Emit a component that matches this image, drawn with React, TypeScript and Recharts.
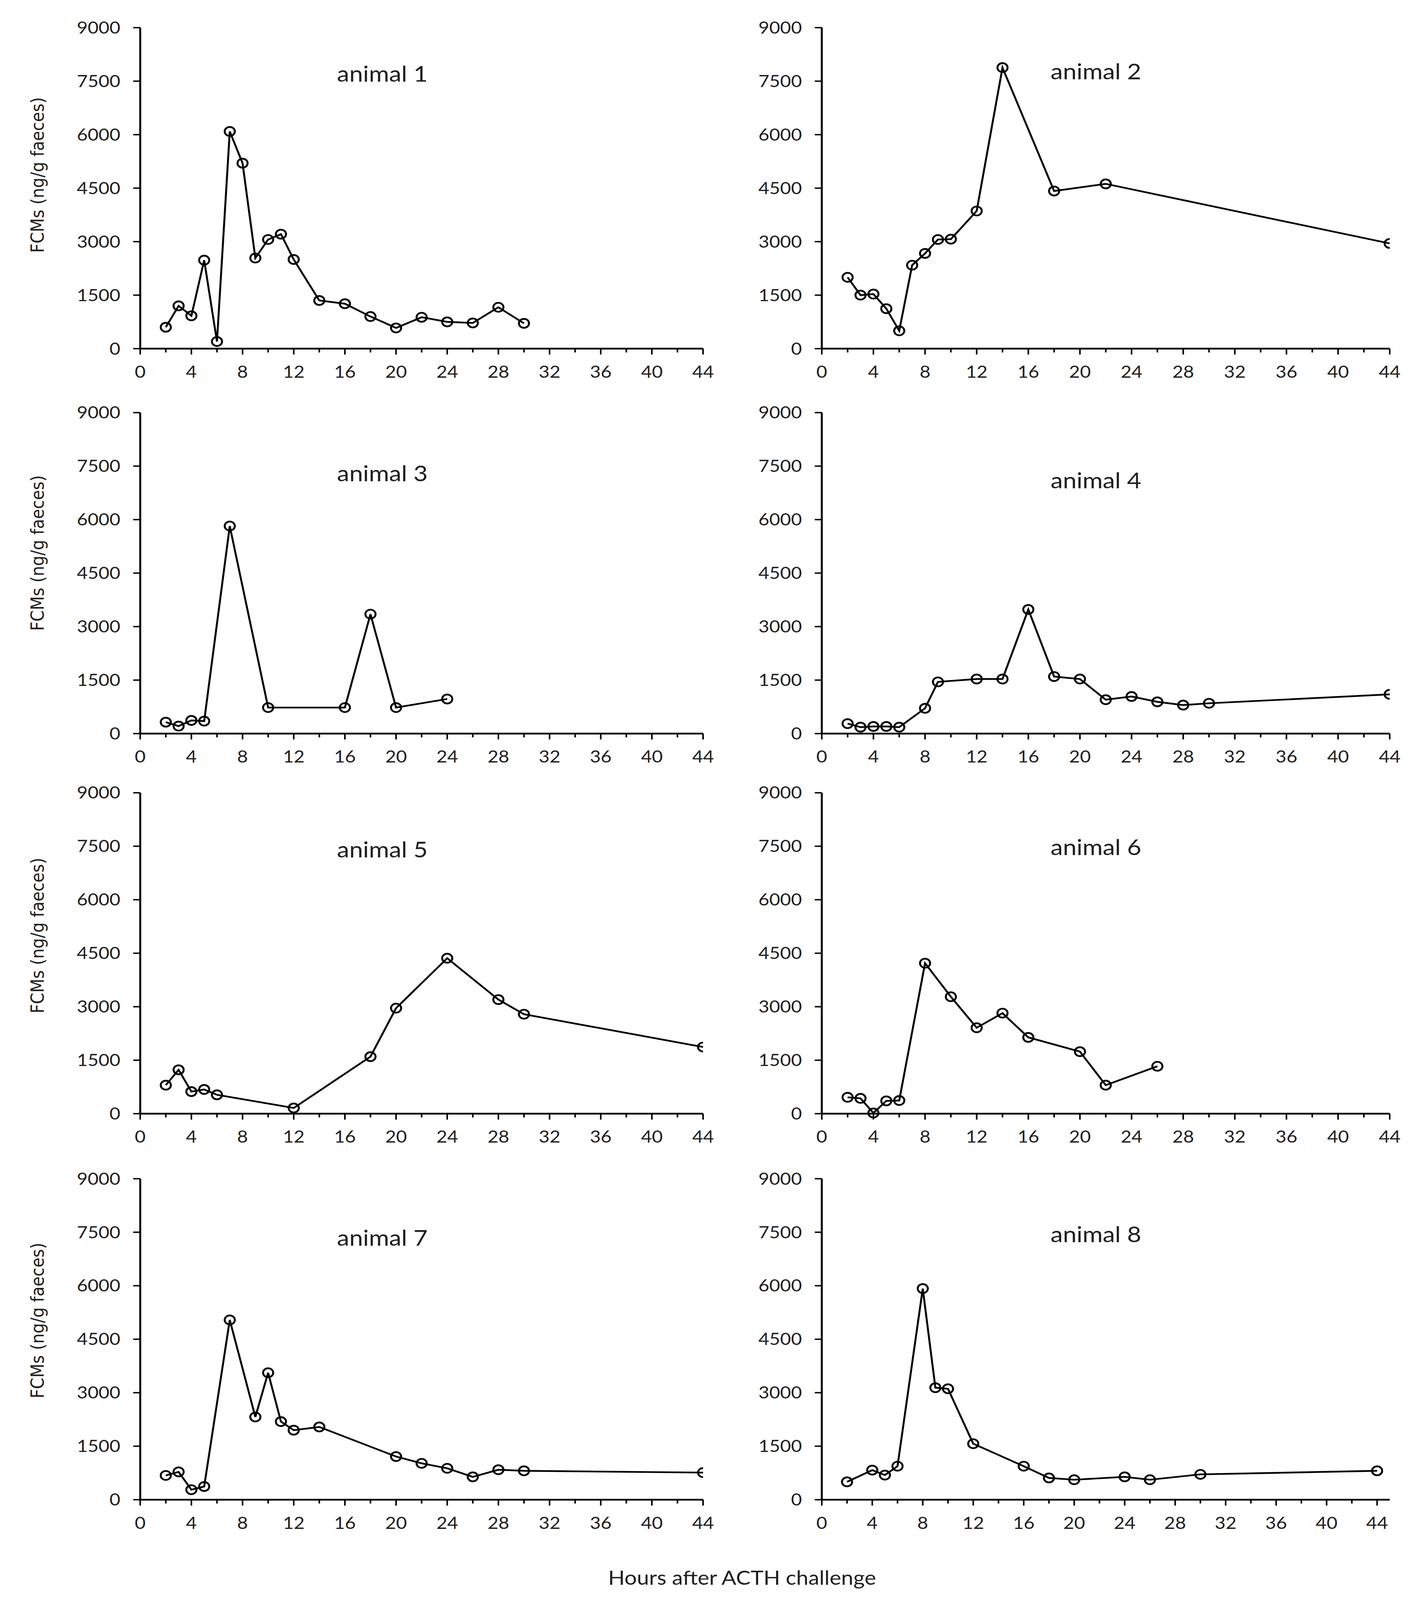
import React from 'react';
import { LineChart, Line, XAxis, YAxis } from 'recharts';

// hours after ACTH challenge and FCM values (ng/g faeces) per animal
const hours1 = [2, 3, 4, 5, 6, 7, 8, 9, 10, 11, 12, 14, 16, 18, 20, 22, 24, 26, 28, 30];
const fcm1 = [600, 1200, 920, 2480, 200, 6090, 5200, 2540, 3060, 3210, 2500, 1350, 1260, 900, 580, 880, 750, 720, 1160, 710];

const hours2 = [2, 3, 4, 5, 6, 7, 8, 9, 10, 12, 14, 18, 22, 44];
const fcm2 = [2000, 1500, 1530, 1120, 500, 2340, 2670, 3060, 3070, 3860, 7880, 4420, 4620, 2950];

const hours3 = [2, 3, 4, 5, 7, 10, 16, 18, 20, 24];
const fcm3 = [320, 210, 370, 350, 5820, 730, 730, 3350, 730, 970];

const hours4 = [2, 3, 4, 5, 6, 8, 9, 12, 14, 16, 18, 20, 22, 24, 26, 28, 30, 44];
const fcm4 = [280, 180, 200, 200, 180, 710, 1450, 1530, 1530, 3480, 1600, 1530, 950, 1040, 890, 800, 850, 1100];

const hours5 = [2, 3, 4, 5, 6, 12, 18, 20, 24, 28, 30, 44];
const fcm5 = [800, 1230, 620, 680, 530, 160, 1600, 2960, 4360, 3200, 2790, 1870];

const hours6 = [2, 3, 4, 5, 6, 8, 10, 12, 14, 16, 20, 22, 26];
const fcm6 = [460, 430, 20, 360, 370, 4220, 3280, 2410, 2820, 2140, 1740, 800, 1330];

const hours7 = [2, 3, 4, 5, 7, 9, 10, 11, 12, 14, 20, 22, 24, 26, 28, 30, 44];
const fcm7 = [680, 780, 280, 370, 5040, 2320, 3560, 2190, 1950, 2040, 1210, 1020, 880, 640, 840, 810, 760];

const hours8 = [2, 4, 5, 6, 8, 9, 10, 12, 16, 18, 20, 24, 26, 30, 44];
const fcm8 = [500, 830, 690, 940, 5920, 3140, 3110, 1570, 940, 610, 560, 640, 560, 710, 810];

const animalNames = ['animal 1', 'animal 2', 'animal 3', 'animal 4', 'animal 5', 'animal 6', 'animal 7', 'animal 8'];
const xTicks = [0, 2, 4, 6, 8, 10, 12, 14, 16, 18, 20, 22, 24, 26, 28, 30, 32, 34, 36, 38, 40, 42, 44];
const yTicks = [0, 1500, 3000, 4500, 6000, 7500, 9000];
const yLabel = 'FCMs (ng/g faeces)';
const xLabel = 'Hours after ACTH challenge';

const series = [
  [hours1, fcm1], [hours2, fcm2], [hours3, fcm3], [hours4, fcm4],
  [hours5, fcm5], [hours6, fcm6], [hours7, fcm7], [hours8, fcm8],
];

// layout (plot area edges in page pixels)
const PAGE_W = 3633;
const PAGE_H = 4626;
const COL_LEFT = [359, 2104];
const COL_W = [1441, 1454];
const ROW_TOP = [80, 1193, 2292, 3408];
const PLOT_H = 928;
const ML = 300, MT = 40, MR = 40, MB = 130;
const LABEL_BASE = [[236, 229], [1391, 1412], [2479, 2472], [3602, 3591]];
const LABEL_X = [979, 2806];
const YLABEL_Y = [506, 1599, 2705, 3818];

const TICK_FONT = "Lato, 'Open Sans', sans-serif";
const INK = '#1e1e1e';

const XTick = (props: any) => {
  const { x, y, payload } = props;
  const v = payload.value;
  const major = v % 4 === 0;
  return (
    <g>
      <line x1={x} x2={x} y1={y} y2={y + (major ? 17 : 11)} stroke="#000" strokeWidth={4} />
      {major && (
        <text x={x} y={y + 84} textAnchor="middle" fontFamily={TICK_FONT} fontSize={48} fill={INK}>
          {v}
        </text>
      )}
    </g>
  );
};

const YTick = (props: any) => {
  const { x, y, payload } = props;
  return (
    <g>
      <line x1={x - 18} x2={x} y1={y} y2={y} stroke="#000" strokeWidth={4} />
      <text x={x - 51} y={y + 17} textAnchor="end" fontFamily={TICK_FONT} fontSize={48} fill={INK}>
        {payload.value}
      </text>
    </g>
  );
};

function Panel({ idx }: { idx: number }) {
  const col = idx % 2;
  const row = Math.floor(idx / 2);
  const [hrs, vals] = series[idx];
  const data = hrs.map((h, i) => ({ h, v: vals[i] }));
  const w = ML + COL_W[col] + MR;
  const h = MT + PLOT_H + MB;
  const xMax = idx === 7 ? 45 : 44;
  // axes take 1px each, so margins are reduced by 1 to keep the plot edges in place
  return (
    <div style={{ position: 'absolute', left: COL_LEFT[col] - ML, top: ROW_TOP[row] - MT }}>
      <LineChart width={w} height={h} data={data} margin={{ top: MT, right: MR, bottom: MB - 1, left: ML - 1 }}>
        <XAxis
          dataKey="h"
          type="number"
          domain={[0, xMax]}
          ticks={xTicks}
          interval={0}
          height={1}
          tickSize={0}
          tickMargin={0}
          tickLine={false}
          tick={<XTick />}
          axisLine={{ stroke: '#000', strokeWidth: 5 }}
          allowDataOverflow
        />
        <YAxis
          type="number"
          domain={[0, 9000]}
          ticks={yTicks}
          interval={0}
          width={1}
          tickSize={0}
          tickMargin={0}
          tickLine={false}
          tick={<YTick />}
          axisLine={{ stroke: '#000', strokeWidth: 5 }}
        />
        <Line
          type="linear"
          dataKey="v"
          stroke="#000"
          strokeWidth={5}
          dot={{ r: 13, stroke: '#000', strokeWidth: 5, fill: 'none' }}
          isAnimationActive={false}
        />
      </LineChart>
    </div>
  );
}

export default function App() {
  // the visible window can be shorter than the figure; squeeze vertically so all of it shows
  const viewH = typeof window !== 'undefined' ? window.innerHeight : PAGE_H;
  const fit = Math.min(1, viewH / PAGE_H);
  return (
    <div
      style={{
        position: 'absolute',
        left: 0,
        top: 0,
        width: PAGE_W,
        height: PAGE_H,
        background: '#fff',
        transform: fit < 1 ? `scaleY(${fit})` : undefined,
        transformOrigin: '0 0',
      }}
    >
      {animalNames.map((_, i) => (
        <Panel key={i} idx={i} />
      ))}
      <svg width={PAGE_W} height={PAGE_H} style={{ position: 'absolute', left: 0, top: 0, pointerEvents: 'none' }}>
        {animalNames.map((name, i) => (
          <text
            key={name}
            x={LABEL_X[i % 2]}
            y={LABEL_BASE[Math.floor(i / 2)][i % 2]}
            textAnchor="middle"
            fontFamily={TICK_FONT}
            fontSize={63}
            fill={INK}
          >
            {name}
          </text>
        ))}
        {YLABEL_Y.map((cy) => (
          <text
            key={cy}
            x={112}
            y={cy}
            transform={`rotate(-90 112 ${cy})`}
            textAnchor="middle"
            fontFamily="'DejaVu Sans', Verdana, sans-serif"
            fontSize={47}
            fill={INK}
          >
            {yLabel}
          </text>
        ))}
        <text x={1900} y={4582} textAnchor="middle" fontFamily={TICK_FONT} fontSize={56} fill={INK}>
          {xLabel}
        </text>
      </svg>
    </div>
  );
}
